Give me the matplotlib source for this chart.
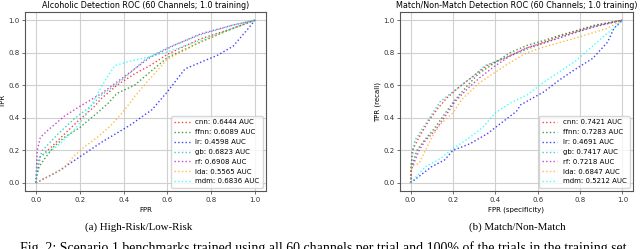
import matplotlib
matplotlib.use("Agg")
import matplotlib.pyplot as plt

# ROC curves: (fpr list, tpr list) per model
MODELS = ["cnn", "ffnn", "lr", "gb", "rf", "lda", "mdm"]
COLORS = ["red", "green", "blue", "c", "m", "orange", "cyan"]

# (a) high-risk / low-risk
a_auc = [0.6444, 0.6089, 0.4598, 0.6823, 0.6908, 0.5565, 0.6836]
a_cnn_fpr = [0, 0.003, 0.02, 0.07, 0.13, 0.2, 0.26, 0.3, 0.37, 0.45, 0.52, 0.6, 0.75, 0.9, 1]
a_cnn_tpr = [0, 0.05, 0.16, 0.22, 0.3, 0.39, 0.46, 0.52, 0.6, 0.67, 0.72, 0.79, 0.885, 0.95, 1]
a_ffnn_fpr = [0, 0.005, 0.015, 0.035, 0.08, 0.13, 0.2, 0.28, 0.33, 0.37, 0.45, 0.52, 0.6, 0.75, 0.9, 1]
a_ffnn_tpr = [0, 0.05, 0.1, 0.14, 0.22, 0.28, 0.34, 0.43, 0.49, 0.55, 0.6, 0.68, 0.77, 0.865, 0.95, 1]
a_lr_fpr = [0, 0.1, 0.2, 0.3, 0.43, 0.53, 0.6, 0.68, 0.75, 0.83, 0.9, 0.97, 1]
a_lr_tpr = [0, 0.07, 0.16, 0.25, 0.355, 0.45, 0.56, 0.7, 0.74, 0.785, 0.84, 0.95, 1]
a_gb_fpr = [0, 0.005, 0.03, 0.1, 0.18, 0.25, 0.3, 0.4, 0.5, 0.6, 0.75, 0.9, 1]
a_gb_tpr = [0, 0.12, 0.2, 0.3, 0.4, 0.47, 0.54, 0.64, 0.76, 0.83, 0.91, 0.97, 1]
a_rf_fpr = [0, 0.003, 0.006, 0.02, 0.06, 0.13, 0.2, 0.3, 0.4, 0.52, 0.63, 0.75, 0.9, 1]
a_rf_tpr = [0, 0.1, 0.2, 0.28, 0.33, 0.41, 0.47, 0.55, 0.65, 0.77, 0.845, 0.915, 0.97, 1]
a_lda_fpr = [0, 0.07, 0.13, 0.17, 0.22, 0.28, 0.34, 0.4, 0.45, 0.52, 0.6, 0.75, 0.9, 1]
a_lda_tpr = [0, 0.05, 0.09, 0.16, 0.22, 0.28, 0.35, 0.44, 0.53, 0.64, 0.76, 0.865, 0.95, 1]
a_mdm_fpr = [0, 0.005, 0.02, 0.07, 0.11, 0.17, 0.22, 0.27, 0.32, 0.36, 0.42, 0.52, 0.6, 0.75, 0.9, 1]
a_mdm_tpr = [0, 0.1, 0.16, 0.2, 0.24, 0.32, 0.4, 0.52, 0.64, 0.72, 0.745, 0.775, 0.805, 0.875, 0.95, 1]

# (b) match / non-match
b_auc = [0.7421, 0.7283, 0.4691, 0.7417, 0.7218, 0.6847, 0.5212]
b_cnn_fpr = [0, 0.003, 0.008, 0.04, 0.085, 0.13, 0.17, 0.23, 0.3, 0.36, 0.45, 0.55, 0.63, 0.7, 0.78, 0.87, 1]
b_cnn_tpr = [0, 0.1, 0.2, 0.28, 0.38, 0.46, 0.52, 0.59, 0.66, 0.72, 0.77, 0.83, 0.865, 0.9, 0.93, 0.965, 1]
b_ffnn_fpr = [0, 0.005, 0.03, 0.07, 0.11, 0.17, 0.21, 0.27, 0.32, 0.4, 0.47, 0.55, 0.63, 0.7, 0.78, 0.87, 1]
b_ffnn_tpr = [0, 0.1, 0.2, 0.27, 0.33, 0.44, 0.51, 0.6, 0.67, 0.74, 0.8, 0.845, 0.875, 0.905, 0.935, 0.97, 1]
b_lr_fpr = [0, 0.1, 0.16, 0.2, 0.28, 0.36, 0.43, 0.5, 0.52, 0.63, 0.7, 0.78, 0.86, 0.93, 0.96, 1]
b_lr_tpr = [0, 0.1, 0.14, 0.2, 0.24, 0.3, 0.37, 0.44, 0.48, 0.56, 0.63, 0.7, 0.765, 0.865, 0.95, 1]
b_gb_fpr = [0, 0.003, 0.02, 0.05, 0.1, 0.14, 0.2, 0.3, 0.35, 0.45, 0.55, 0.63, 0.7, 0.78, 0.87, 1]
b_gb_tpr = [0, 0.12, 0.26, 0.32, 0.42, 0.5, 0.56, 0.66, 0.72, 0.77, 0.82, 0.86, 0.89, 0.925, 0.96, 1]
b_rf_fpr = [0, 0.003, 0.04, 0.07, 0.115, 0.18, 0.21, 0.27, 0.33, 0.4, 0.47, 0.55, 0.63, 0.7, 0.78, 0.87, 1]
b_rf_tpr = [0, 0.08, 0.2, 0.26, 0.32, 0.44, 0.5, 0.58, 0.65, 0.72, 0.78, 0.83, 0.86, 0.89, 0.925, 0.96, 1]
b_lda_fpr = [0, 0.003, 0.04, 0.07, 0.1, 0.14, 0.2, 0.24, 0.32, 0.4, 0.47, 0.55, 0.63, 0.78, 0.93, 1]
b_lda_tpr = [0, 0.1, 0.12, 0.2, 0.28, 0.36, 0.43, 0.51, 0.61, 0.68, 0.74, 0.8, 0.835, 0.89, 0.95, 1]
b_mdm_fpr = [0, 0.07, 0.13, 0.2, 0.28, 0.34, 0.4, 0.47, 0.55, 0.63, 0.7, 0.78, 0.85, 0.93, 0.98, 1]
b_mdm_tpr = [0, 0.1, 0.14, 0.21, 0.28, 0.34, 0.43, 0.49, 0.54, 0.62, 0.68, 0.75, 0.83, 0.92, 0.97, 1]

a_curves = [(a_cnn_fpr, a_cnn_tpr), (a_ffnn_fpr, a_ffnn_tpr), (a_lr_fpr, a_lr_tpr),
            (a_gb_fpr, a_gb_tpr), (a_rf_fpr, a_rf_tpr), (a_lda_fpr, a_lda_tpr),
            (a_mdm_fpr, a_mdm_tpr)]
b_curves = [(b_cnn_fpr, b_cnn_tpr), (b_ffnn_fpr, b_ffnn_tpr), (b_lr_fpr, b_lr_tpr),
            (b_gb_fpr, b_gb_tpr), (b_rf_fpr, b_rf_tpr), (b_lda_fpr, b_lda_tpr),
            (b_mdm_fpr, b_mdm_tpr)]

TICKS = [0.0, 0.2, 0.4, 0.6, 0.8, 1.0]


def draw_roc(ax, curves, aucs, title, xlabel, ylabel):
    for name, col, (fpr, tpr), auc in zip(MODELS, COLORS, curves, aucs):
        ax.plot(fpr, tpr, linestyle=":", color=col, lw=1.0, alpha=0.75,
                label=f"{name}: {auc:.4f} AUC")
    ax.set_xticks(TICKS)
    ax.set_yticks(TICKS)
    ax.tick_params(labelsize=5, length=2, width=0.5, pad=2, colors="#333333")
    ax.grid(True, color="#d0d0d0", lw=0.8)
    ax.set_axisbelow(True)
    for s in ax.spines.values():
        s.set_color("#555555")
        s.set_linewidth(0.8)
    ax.set_title(title, fontsize=5.8, pad=3)
    ax.set_xlabel(xlabel, fontsize=5, labelpad=3)
    ax.set_ylabel(ylabel, fontsize=5, labelpad=1.5)
    ax.legend(loc="lower right", fontsize=5, handlelength=2.2, labelspacing=0.55,
              borderpad=0.45, framealpha=0.8, edgecolor="#cccccc", fancybox=True)


fig = plt.figure(figsize=(6.4, 2.49), dpi=100)
ax1 = fig.add_axes([25 / 640, 58 / 249, 241 / 640, 179 / 249])
ax2 = fig.add_axes([400 / 640, 58 / 249, 233 / 640, 179 / 249])

draw_roc(ax1, a_curves, a_auc, "Alcoholic Detection ROC (60 Channels; 1.0 training)", "FPR", "TPR")
draw_roc(ax2, b_curves, b_auc, "Match/Non-Match Detection ROC (60 Channels; 1.0 training)",
         "FPR (specificity)", "TPR (recall)")

fig.text(139 / 640, 1 - 227 / 249, "(a) High-Risk/Low-Risk", family="Liberation Serif",
         fontsize=7.8, ha="center", va="center")
fig.text(517 / 640, 1 - 227 / 249, "(b) Match/Non-Match", family="Liberation Serif",
         fontsize=7.8, ha="center", va="center")
fig.text(20 / 640, -3 / 249,
         "Fig. 2: Scenario 1 benchmarks trained using all 60 channels per trial and 100% of the trials in the training set.",
         family="Liberation Serif", fontsize=10, ha="left", va="baseline")

fig.savefig("out.png", dpi=100)
